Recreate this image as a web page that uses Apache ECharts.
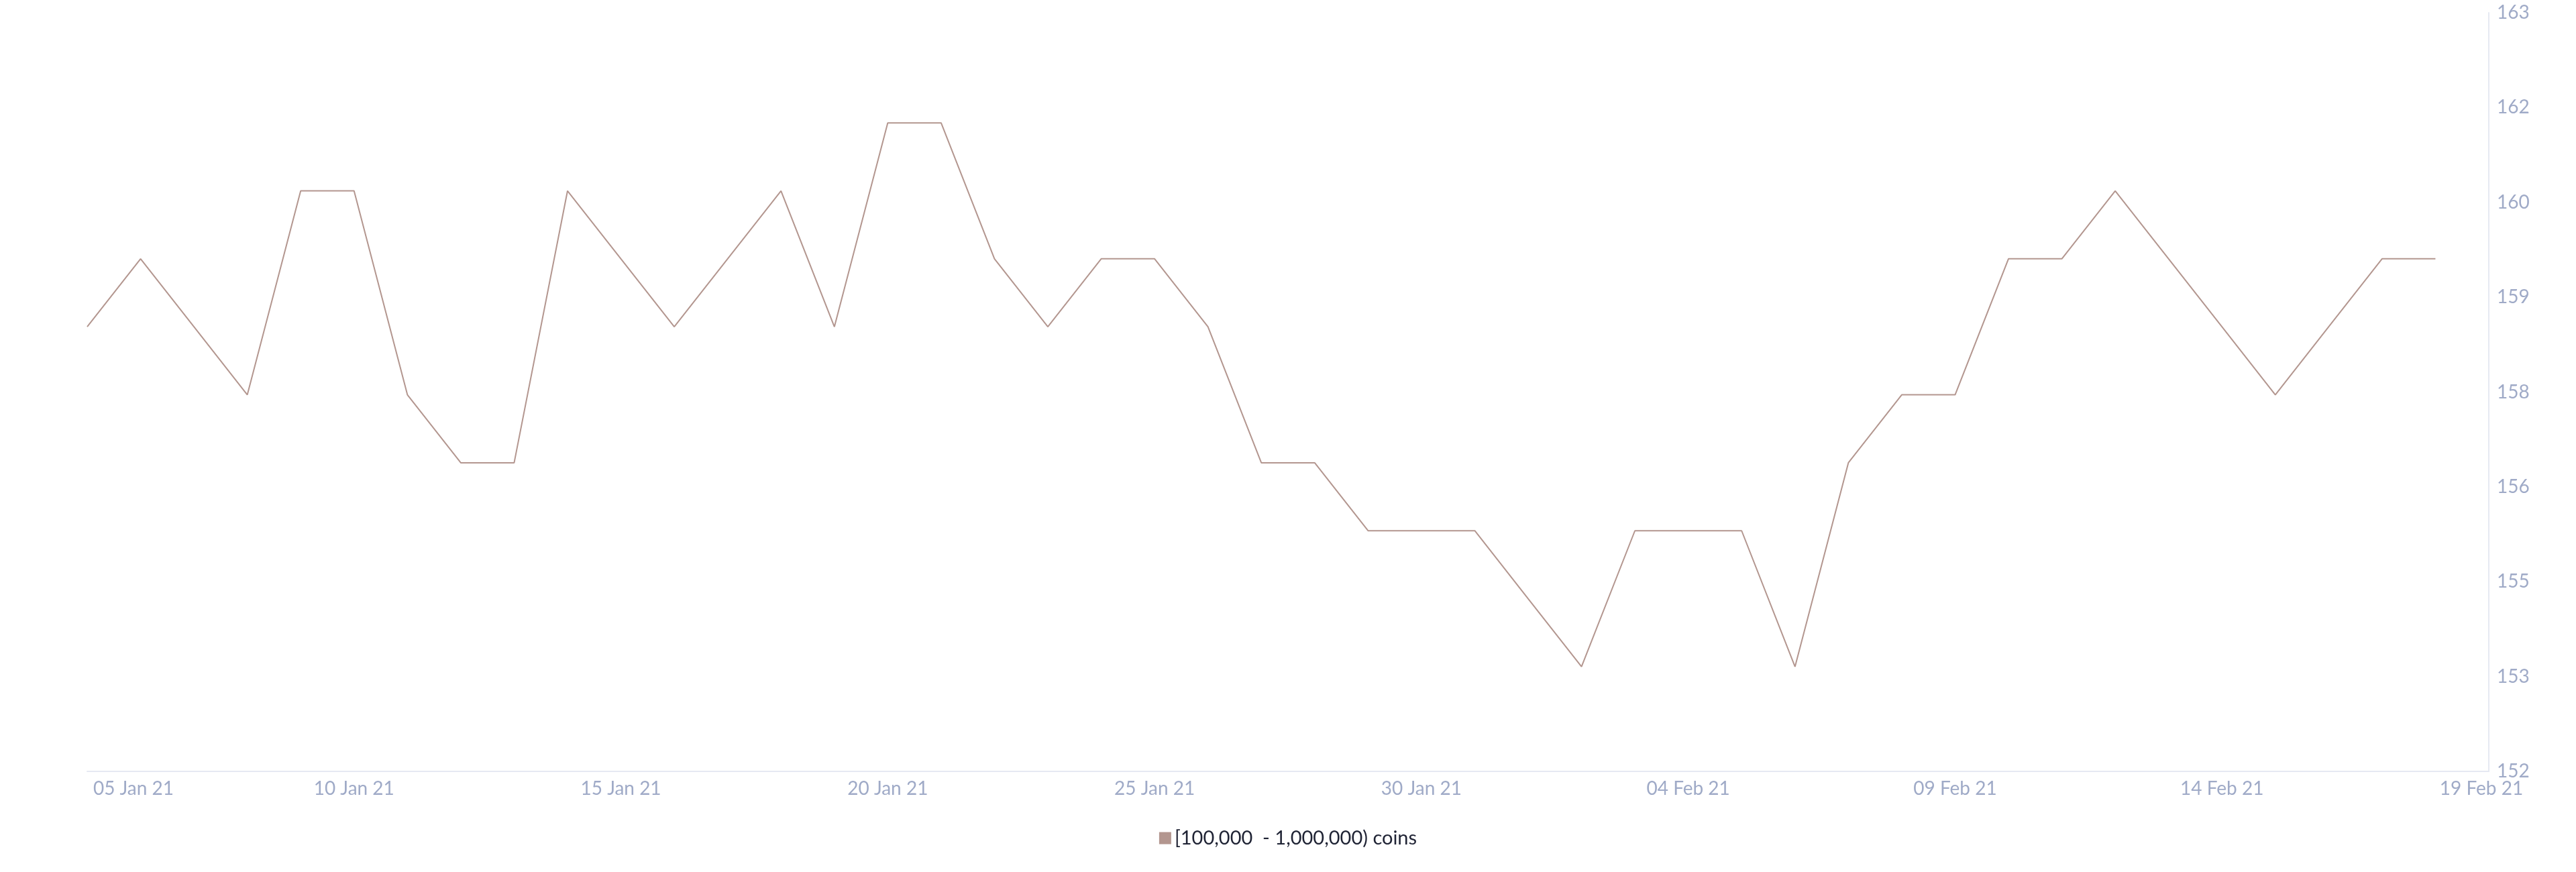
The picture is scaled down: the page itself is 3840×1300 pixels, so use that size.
<!DOCTYPE html>
<html>
<head>
<meta charset="utf-8">
<script src="https://cdn.jsdelivr.net/npm/echarts@6/dist/echarts.min.js"></script>
<style>
html,body{margin:0;padding:0;background:#fff;}
#chart{width:3840px;height:1300px;}
</style>
</head>
<body>
<div id="chart"></div>
<script>
const dates = ['05 Jan 21','06 Jan 21','07 Jan 21','08 Jan 21','09 Jan 21','10 Jan 21','11 Jan 21','12 Jan 21','13 Jan 21','14 Jan 21',
  '15 Jan 21','16 Jan 21','17 Jan 21','18 Jan 21','19 Jan 21','20 Jan 21','21 Jan 21','22 Jan 21','23 Jan 21','24 Jan 21',
  '25 Jan 21','26 Jan 21','27 Jan 21','28 Jan 21','29 Jan 21','30 Jan 21','31 Jan 21','01 Feb 21','02 Feb 21','03 Feb 21',
  '04 Feb 21','05 Feb 21','06 Feb 21','07 Feb 21','08 Feb 21','09 Feb 21','10 Feb 21','11 Feb 21','12 Feb 21','13 Feb 21',
  '14 Feb 21','15 Feb 21','16 Feb 21','17 Feb 21','18 Feb 21','19 Feb 21'];
const holders = [159,160,159,158,161,161,158,157,157,161,
  160,159,160,161,159,162,162,160,159,160,
  160,159,157,157,156,156,156,155,154,156,
  156,156,154,157,158,158,160,160,161,160,
  159,158,159,160,160,null];
const seriesName = '[100,000  - 1,000,000) coins';
const yMin = 152.46, yMax = 163.62, yStep = 1.395;

const chart = echarts.init(document.getElementById('chart'));
const font = 'Lato, "Open Sans", sans-serif';
const lastIdx = dates.length - 1;
chart.setOption({
  animation: false,
  backgroundColor: '#ffffff',
  grid: {left: 130, right: 130, top: 19, bottom: 150, containLabel: false},
  legend: {
    bottom: 31, left: 'center',
    icon: 'rect', itemWidth: 18, itemHeight: 18, itemGap: 20,
    textStyle: {color: '#1f2334', fontSize: 29, fontFamily: font},
    data: [{name: seriesName, itemStyle: {color: '#b3968f'}}]
  },
  xAxis: {
    type: 'category', data: dates, boundaryGap: false,
    axisLine: {show: true, lineStyle: {color: '#e6e9f2', width: 2}},
    axisTick: {show: false},
    splitLine: {show: false},
    axisLabel: {
      interval: 4, showMinLabel: true, showMaxLabel: true,
      color: '#9faac7', fontSize: 28, fontFamily: font, margin: 12,
      formatter: function (v, i) {
        if (i === 0) return '{first|' + v + '}';
        if (i === lastIdx) return '{last|' + v + '}';
        return v;
      },
      rich: {
        first: {padding: [0, 0, 0, 138], color: '#9faac7', fontSize: 28, fontFamily: font},
        last: {padding: [0, 22, 0, 0], color: '#9faac7', fontSize: 28, fontFamily: font}
      }
    }
  },
  yAxis: {
    type: 'value', position: 'right', min: yMin, max: yMax, interval: yStep,
    axisLine: {show: true, lineStyle: {color: '#e6e9f2', width: 2}},
    axisTick: {show: false},
    splitLine: {show: false},
    axisLabel: {
      color: '#9faac7', fontSize: 28, fontFamily: font, margin: 12,
      formatter: function (v) { return String(Math.floor(v + 1e-9)); }
    }
  },
  series: [{
    name: seriesName, type: 'line', data: holders,
    showSymbol: false, symbol: 'none',
    lineStyle: {color: '#b3968f', width: 2},
    itemStyle: {color: '#b3968f'}
  }]
});
</script>
</body>
</html>
